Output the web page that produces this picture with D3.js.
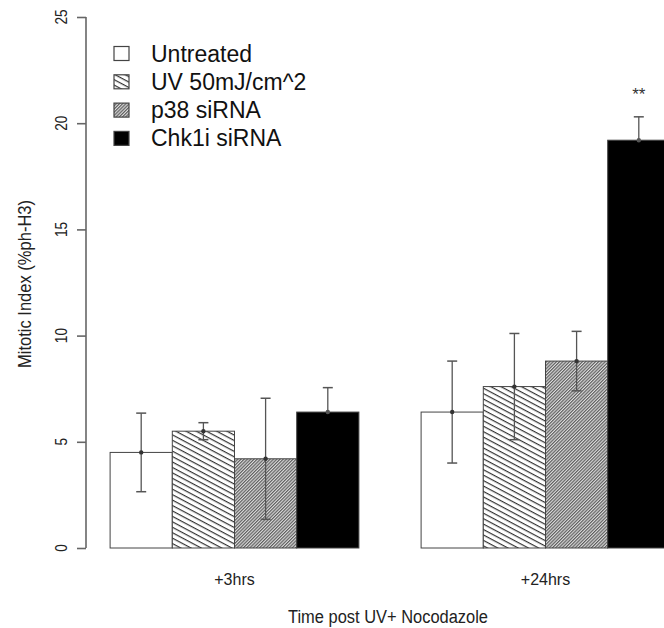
<!DOCTYPE html>
<html>
<head>
<meta charset="utf-8">
<script src="https://cdn.jsdelivr.net/npm/d3@7"></script>
<style>
  body { margin: 0; background: #fff; }
  svg { display: block; font-family: "Liberation Sans", Arial, sans-serif; }
</style>
</head>
<body>
<svg id="chart" width="664" height="628"></svg>
<script>
// --- Data ---
const groups = ['+3hrs', '+24hrs'];
const series = ['Untreated', 'UV 50mJ/cm^2', 'p38 siRNA', 'Chk1i siRNA'];
const means3h = [4.5, 5.5, 4.2, 6.4];
const means24h = [6.4, 7.6, 8.8, 19.2];
const err3h = [1.85, 0.4, 2.85, 1.15];
const err24h = [2.4, 2.5, 1.4, 1.1];
const yTicks = [0, 5, 10, 15, 20, 25];
const starLabel = '**';

const fills = ['#ffffff', 'url(#hatchUV)', 'url(#hatchP38)', '#000000'];

const svg = d3.select('#chart');

// --- Patterns ---
const defs = svg.append('defs');
const uv = defs.append('pattern')
    .attr('id', 'hatchUV')
    .attr('patternUnits', 'userSpaceOnUse')
    .attr('width', 10).attr('height', 4.8)
    .attr('patternTransform', 'rotate(28)');
uv.append('rect').attr('width', 10).attr('height', 4.8).attr('fill', '#fff');
uv.append('line').attr('x1', 0).attr('x2', 10).attr('y1', 0.6).attr('y2', 0.6)
    .attr('stroke', '#333').attr('stroke-width', 1.2);

const p38 = defs.append('pattern')
    .attr('id', 'hatchP38')
    .attr('patternUnits', 'userSpaceOnUse')
    .attr('width', 10).attr('height', 2.3)
    .attr('patternTransform', 'rotate(-45)');
p38.append('rect').attr('width', 10).attr('height', 2.3).attr('fill', '#dcdcdc');
p38.append('line').attr('x1', 0).attr('x2', 10).attr('y1', 0.6).attr('y2', 0.6)
    .attr('stroke', '#555').attr('stroke-width', 1.1);

// --- Scales ---
const y = d3.scaleLinear().domain([0, 25]).range([548, 17]);
const x0 = d3.scaleBand().domain(groups).range([79, 701])
    .paddingInner(0.2).paddingOuter(0.1);
const x1 = d3.scaleBand().domain(series).range([0, x0.bandwidth()]);

const rows = [];
groups.forEach((g, gi) => {
    const m = gi === 0 ? means3h : means24h;
    const e = gi === 0 ? err3h : err24h;
    series.forEach((s, si) => {
        rows.push({ group: g, series: s, value: m[si], err: e[si], fill: fills[si], dark: si === 3 });
    });
});

// --- Bars ---
svg.append('g').selectAll('rect')
    .data(rows)
    .join('rect')
    .attr('x', d => x0(d.group) + x1(d.series))
    .attr('y', d => y(d.value))
    .attr('width', x1.bandwidth())
    .attr('height', d => y(0) - y(d.value))
    .attr('fill', d => d.fill)
    .attr('stroke', '#444')
    .attr('stroke-width', 1);

// --- Error bars ---
const errG = svg.append('g');
const cx = d => x0(d.group) + x1(d.series) + x1.bandwidth() / 2;
const capW = 5;
rows.forEach(d => {
    const c = cx(d);
    const g = errG.append('g');
    // upper part
    g.append('line').attr('x1', c).attr('x2', c)
        .attr('y1', y(d.value)).attr('y2', y(d.value + d.err))
        .attr('stroke', '#555').attr('stroke-width', 1.3);
    g.append('line').attr('x1', c - capW).attr('x2', c + capW)
        .attr('y1', y(d.value + d.err)).attr('y2', y(d.value + d.err))
        .attr('stroke', '#555').attr('stroke-width', 1.5);
    // lower part (hidden inside the black bars)
    const lc = d.dark ? '#000' : '#555';
    g.append('line').attr('x1', c).attr('x2', c)
        .attr('y1', y(d.value)).attr('y2', y(d.value - d.err))
        .attr('stroke', lc).attr('stroke-width', 1.3);
    g.append('line').attr('x1', c - capW).attr('x2', c + capW)
        .attr('y1', y(d.value - d.err)).attr('y2', y(d.value - d.err))
        .attr('stroke', lc).attr('stroke-width', 1.5);
    g.append('circle').attr('cx', c).attr('cy', y(d.value)).attr('r', 2.2)
        .attr('fill', d.dark ? '#555' : '#333');
});

// --- Significance ---
const last = rows[rows.length - 1];
svg.append('text')
    .attr('x', cx(last)).attr('y', 100)
    .attr('text-anchor', 'middle')
    .attr('font-size', 17).attr('fill', '#333')
    .text(starLabel);

// --- Y axis (R style) ---
const axisG = svg.append('g').attr('transform', 'translate(86,0)');
axisG.call(d3.axisLeft(y).tickValues(yTicks).tickSize(9).tickFormat(''));
axisG.select('.domain').attr('d', `M0,${y(25)}V${y(0)}`).attr('stroke', '#666').attr('stroke-width', 1.6);
axisG.selectAll('.tick line').attr('stroke', '#666').attr('stroke-width', 1.6);

svg.append('g').selectAll('text')
    .data(yTicks)
    .join('text')
    .attr('transform', d => `translate(67,${y(d)}) rotate(-90)`)
    .attr('text-anchor', 'middle')
    .attr('font-size', 17)
    .attr('textLength', d => String(d).length * 7.6)
    .attr('lengthAdjust', 'spacingAndGlyphs')
    .attr('fill', '#222')
    .text(d => d);

// --- X labels ---
svg.append('g').selectAll('text')
    .data(groups)
    .join('text')
    .attr('x', d => x0(d) + x0.bandwidth() / 2)
    .attr('y', 585)
    .attr('text-anchor', 'middle')
    .attr('font-size', 16)
    .attr('fill', '#222')
    .text(d => d);

svg.append('text')
    .attr('x', 388).attr('y', 623)
    .attr('text-anchor', 'middle')
    .attr('font-size', 18)
    .attr('textLength', 200).attr('lengthAdjust', 'spacingAndGlyphs')
    .attr('fill', '#222')
    .text('Time post UV+ Nocodazole');

svg.append('text')
    .attr('transform', 'translate(31,284) rotate(-90)')
    .attr('text-anchor', 'middle')
    .attr('font-size', 18)
    .attr('textLength', 168).attr('lengthAdjust', 'spacingAndGlyphs')
    .attr('fill', '#222')
    .text('Mitotic Index (%ph-H3)');

// --- Legend ---
const legRows = svg.append('g').selectAll('g')
    .data(series)
    .join('g')
    .attr('transform', (d, i) => `translate(114,${61.5 + i * 28.3})`);
legRows.append('rect')
    .attr('x', 0).attr('y', -15)
    .attr('width', 15).attr('height', 14)
    .attr('fill', (d, i) => fills[i])
    .attr('stroke', '#444').attr('stroke-width', 1.2);
legRows.append('text')
    .attr('x', 37).attr('y', 0)
    .attr('font-size', 23)
    .attr('fill', '#111')
    .text(d => d);
</script>
</body>
</html>
